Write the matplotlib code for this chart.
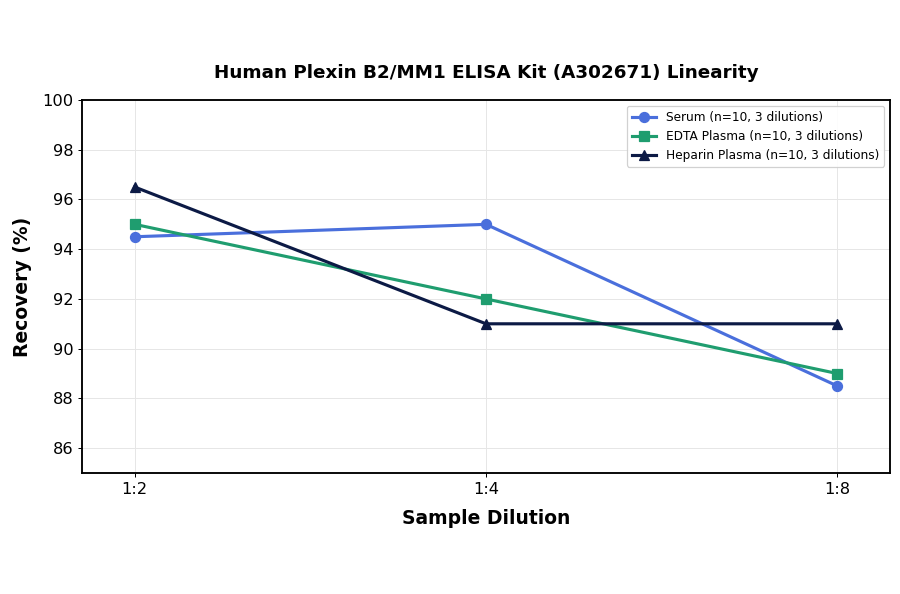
import matplotlib
matplotlib.use("Agg")
import matplotlib.pyplot as plt
import numpy as np

# Daten
dilutions = ["1:2", "1:4", "1:8"]
serum = [94.5, 95.0, 88.5]
edta_plasma = [95.0, 92.0, 89.0]
heparin_plasma = [96.5, 91.0, 91.0]

series = [
    ("Serum (n=10, 3 dilutions)", serum, "#4a6fdc", "o"),
    ("EDTA Plasma (n=10, 3 dilutions)", edta_plasma, "#1f9d6f", "s"),
    ("Heparin Plasma (n=10, 3 dilutions)", heparin_plasma, "#0c1a45", "^"),
]

fig = plt.figure(figsize=(10, 6.6), dpi=90)
ax = fig.add_axes([82 / 900, 1 - 473 / 594, 808 / 900, 373 / 594])

x = np.arange(len(dilutions))
for label, values, color, marker in series:
    ax.plot(x, values, color=color, marker=marker, linewidth=2.5, markersize=8, label=label)

ax.set_xticks(x)
ax.set_xticklabels(dilutions, fontsize=13)
ax.set_xlim(-0.15, 2.15)
ax.set_ylim(85, 100)
ax.set_yticks(np.arange(86, 101, 2))
ax.tick_params(axis="y", labelsize=13)
ax.grid(True, color="#e6e6e6", linewidth=0.8)
ax.set_axisbelow(True)
for spine in ax.spines.values():
    spine.set_linewidth(1.5)

ax.set_xlabel("Sample Dilution", fontsize=15, fontweight="bold", labelpad=10)
ax.set_ylabel("Recovery (%)", fontsize=15, fontweight="bold", labelpad=8)
ax.set_title("Human Plexin B2/MM1 ELISA Kit (A302671) Linearity", fontsize=14.7, fontweight="bold", pad=18)
ax.legend(loc="upper right", fontsize=9.7, framealpha=0.9)

fig.savefig("out.png", dpi=90)
